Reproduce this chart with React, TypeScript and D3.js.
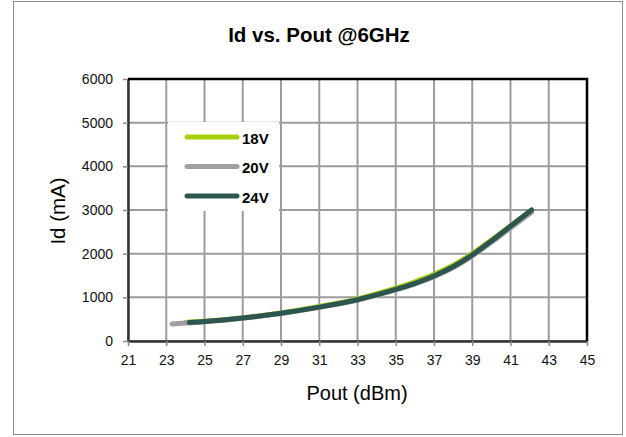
import React, { useRef, useEffect } from "react";
import * as d3 from "d3";

// Pout (dBm) / Id (mA)
const pout18 = [24.0, 25, 27, 29, 31, 33, 35, 36, 37, 38, 39, 40, 41, 42.1];
const id18 = [425, 450, 530, 640, 790, 965, 1210, 1355, 1525, 1735, 2000, 2310, 2640, 2995];
const pout20 = [23.3, 25, 27, 29, 31, 33, 35, 36, 37, 38, 39, 40, 41, 42.1];
const id20 = [390, 440, 520, 630, 770, 940, 1170, 1305, 1470, 1680, 1950, 2260, 2590, 2950];
const pout24 = [24.2, 25, 27, 29, 31, 33, 35, 36, 37, 38, 39, 40, 41, 42.1];
const id24 = [425, 445, 525, 635, 775, 945, 1180, 1320, 1490, 1700, 1970, 2290, 2630, 3000];

const seriesNames = ["18V", "20V", "24V"];
const seriesColors = ["#a4d10c", "#a0a0a0", "#2e5651"];
const xTicks = [21, 23, 25, 27, 29, 31, 33, 35, 37, 39, 41, 43, 45];
const yTicks = [0, 1000, 2000, 3000, 4000, 5000, 6000];

const App = () => {
  const svgRef = useRef<SVGSVGElement>(null);

  useEffect(() => {
    const svg = d3.select(svgRef.current);
    svg.selectAll("*").remove();

    const width = 626;
    const height = 437;
    const margin = { top: 79, right: 39, bottom: 96, left: 128 };
    const font = "Liberation Sans, Arial, sans-serif";

    const x = d3.scaleLinear().domain([21, 45]).range([margin.left, width - margin.right]);
    const y = d3.scaleLinear().domain([0, 6000]).range([height - margin.bottom, margin.top]);

    // outer frame
    svg
      .append("rect")
      .attr("x", 13.5)
      .attr("y", 1.5)
      .attr("width", 609)
      .attr("height", 433)
      .attr("fill", "#fff")
      .attr("stroke", "#8c8c8c")
      .attr("stroke-width", 1);

    svg
      .append("text")
      .attr("x", 319)
      .attr("y", 42)
      .attr("text-anchor", "middle")
      .attr("font-family", font)
      .attr("font-size", "20.5px")
      .attr("font-weight", "bold")
      .text("Id vs. Pout @6GHz");

    // grid
    const grid = svg.append("g").attr("stroke", "#9c9c9c").attr("stroke-width", 2);
    grid
      .selectAll("line.v")
      .data(xTicks)
      .join("line")
      .attr("class", "v")
      .attr("x1", (d) => x(d))
      .attr("x2", (d) => x(d))
      .attr("y1", y(0))
      .attr("y2", y(6000));
    grid
      .selectAll("line.h")
      .data(yTicks)
      .join("line")
      .attr("class", "h")
      .attr("x1", x(21))
      .attr("x2", x(45))
      .attr("y1", (d) => y(d))
      .attr("y2", (d) => y(d));

    // axes
    const yAxis = svg
      .append("g")
      .attr("transform", `translate(${margin.left},0)`)
      .call(
        d3.axisLeft(y).tickValues(yTicks).tickFormat(d3.format("d")).tickSize(5).tickSizeOuter(0).tickPadding(10)
      );
    const xAxis = svg
      .append("g")
      .attr("transform", `translate(0,${height - margin.bottom})`)
      .call(
        d3.axisBottom(x).tickValues(xTicks).tickFormat(d3.format("d")).tickSize(5).tickSizeOuter(0).tickPadding(9)
      );
    [yAxis, xAxis].forEach((g) => {
      g.select(".domain").attr("stroke", "#333").attr("stroke-width", 2.5);
      g.selectAll(".tick line").attr("stroke", "#888").attr("stroke-width", 1.5);
      g.selectAll("text").attr("font-family", font).attr("font-size", "14px").attr("fill", "#111");
    });

    // thick top and right borders
    svg
      .append("path")
      .attr("d", `M${x(21)},${y(6000)}H${x(45)}V${y(0)}`)
      .attr("fill", "none")
      .attr("stroke", "#000")
      .attr("stroke-width", 2.5);

    // lines
    const line = d3
      .line<[number, number]>()
      .x((d) => x(d[0]))
      .y((d) => y(d[1]))
      .curve(d3.curveCatmullRom.alpha(0.5));
    const series = [d3.zip(pout18, id18), d3.zip(pout20, id20), d3.zip(pout24, id24)];
    series.forEach((s, i) => {
      svg
        .append("path")
        .datum(s as [number, number][])
        .attr("d", line)
        .attr("fill", "none")
        .attr("stroke", seriesColors[i])
        .attr("stroke-width", 5)
        .attr("stroke-linecap", "round");
    });

    // legend
    const legend = svg.append("g");
    legend
      .append("rect")
      .attr("x", 168)
      .attr("y", 122)
      .attr("width", 111)
      .attr("height", 89)
      .attr("fill", "#fff");
    seriesNames.forEach((name, i) => {
      const ly = 137 + i * 29.5;
      legend
        .append("line")
        .attr("x1", 187)
        .attr("x2", 237)
        .attr("y1", ly)
        .attr("y2", ly)
        .attr("stroke", seriesColors[i])
        .attr("stroke-width", 5)
        .attr("stroke-linecap", "round");
      legend
        .append("text")
        .attr("x", 242)
        .attr("y", ly + 6.5)
        .attr("font-family", font)
        .attr("font-size", "15px")
        .attr("font-weight", "bold")
        .text(name);
    });

    // axis titles
    svg
      .append("text")
      .attr("x", 357)
      .attr("y", 400)
      .attr("text-anchor", "middle")
      .attr("font-family", font)
      .attr("font-size", "20px")
      .text("Pout (dBm)");
    svg
      .append("text")
      .attr("transform", `translate(65,211) rotate(-90)`)
      .attr("text-anchor", "middle")
      .attr("font-family", font)
      .attr("font-size", "20.5px")
      .text("Id (mA)");
  }, []);

  return (
    <svg
      ref={svgRef}
      width={626}
      height={437}
      style={{ position: "absolute", left: 0, top: 0 }}
    ></svg>
  );
};

export default App;
